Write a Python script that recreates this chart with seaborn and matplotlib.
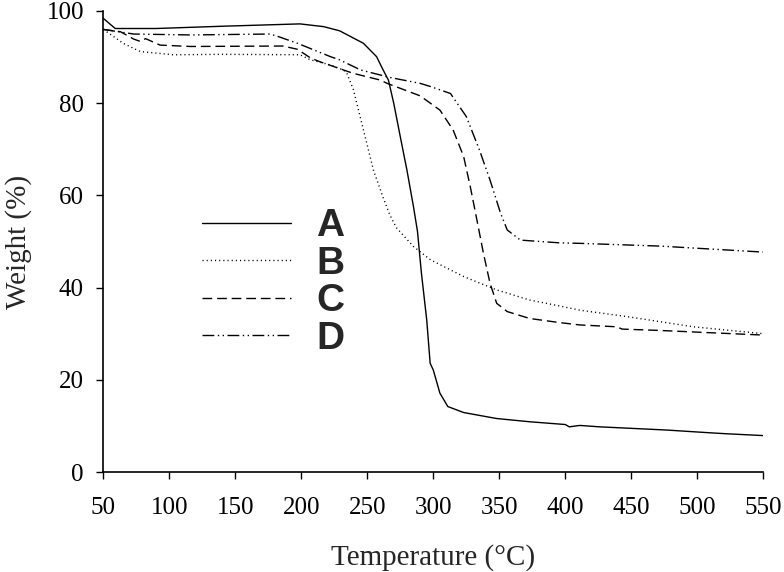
import matplotlib
matplotlib.use('Agg')
import matplotlib.pyplot as plt
import pandas as pd
import seaborn as sns

# TGA curves (temperature in °C, weight in %)
temp_a = [50, 59, 90, 141, 199, 217, 229, 247, 257, 262, 266, 270, 275, 280, 285, 288,
          291, 295, 297.6, 300, 305, 311, 323, 348, 373, 400, 403, 411, 426, 477, 510, 522, 550]
weight_a = [98.4, 96.2, 96.2, 96.7, 97.2, 96.6, 95.7, 93.0, 90.1, 87.2, 85.0, 80.0, 72.7, 65.5, 57.5, 52.2,
            43.1, 33.0, 23.6, 22.1, 17.1, 14.2, 12.9, 11.6, 10.9, 10.3, 9.8, 10.1, 9.8, 9.1, 8.5, 8.3, 7.9]

temp_b = [50, 65, 78, 103, 140, 199, 207, 222, 232, 234.5, 239.5, 244.5, 249.6, 254.6, 262, 267,
          272, 285, 298, 323, 348, 373, 396, 411, 447, 497, 550]
weight_b = [96.0, 93.0, 91.2, 90.5, 90.6, 90.5, 89.4, 88.3, 87.2, 86.5, 82.9, 77.1, 71.3, 65.5, 59.5, 55.8,
            53.0, 48.9, 46.0, 42.4, 39.5, 37.3, 36.0, 35.1, 33.7, 31.5, 30.0]

temp_c = [50, 63, 73, 78, 82, 93, 116, 186, 197, 207, 214, 239, 260, 265, 290, 305, 315, 323,
          328, 333, 338, 343, 348, 356, 373, 396, 411, 439, 443, 472, 550]
weight_c = [96.0, 95.5, 93.9, 93.4, 94.0, 92.6, 92.3, 92.4, 91.7, 89.8, 89.0, 86.5, 85.0, 84.3, 81.6, 78.5, 74.2, 68.4,
            61.9, 54.7, 47.4, 40.9, 36.6, 34.8, 33.3, 32.4, 31.9, 31.5, 31.0, 30.7, 29.7]

temp_d = [50, 73, 116, 176, 181, 197, 222, 229, 245, 260, 265, 290, 298, 313, 325, 335, 343,
          351, 356, 366, 396, 411, 472, 550]
weight_d = [96.0, 95.0, 94.8, 95.0, 94.6, 93.0, 90.1, 89.4, 87.2, 86.1, 85.7, 84.3, 83.6, 82.1, 77.1, 69.8, 63.3,
            56.1, 52.5, 50.3, 49.7, 49.6, 49.0, 47.7]

samples = ['A', 'B', 'C', 'D']
x_ticks = [50, 100, 150, 200, 250, 300, 350, 400, 450, 500, 550]
y_ticks = [0, 20, 40, 60, 80, 100]

frames = []
for name, t, w in zip(samples, [temp_a, temp_b, temp_c, temp_d], [weight_a, weight_b, weight_c, weight_d]):
    frames.append(pd.DataFrame({'temp': t, 'weight': w, 'sample': name}))
df = pd.concat(frames, ignore_index=True)

sns.set_style('ticks')
plt.rcParams['font.family'] = ['Liberation Serif', 'DejaVu Serif']

fig = plt.figure(figsize=(7.84, 5.72), dpi=100)
ax = fig.add_axes([0.1318, 0.1748, 0.8418, 0.806])

line_dashes = {'A': '', 'B': (0.8, 2.2), 'C': (7, 3.5), 'D': (8.5, 2.5, 1, 2.5, 1, 2.5)}
sns.lineplot(data=df, x='temp', y='weight', style='sample', style_order=samples,
             dashes=line_dashes, color='black', linewidth=1.0,
             estimator=None, sort=False, legend=False, ax=ax)

ax.set_xlim(50, 550)
ax.set_ylim(0, 100)
ax.set_xticks(x_ticks)
ax.set_yticks(y_ticks)
ax.tick_params(axis='both', direction='out', length=5, width=1, color='black',
               labelsize=18, labelcolor='black')
ax.tick_params(axis='x', pad=13)
ax.tick_params(axis='y', pad=9)
sns.despine(ax=ax)
for side in ['left', 'bottom']:
    ax.spines[side].set_linewidth(1.2)
    ax.spines[side].set_color('black')

ax.set_xlabel('Temperature (°C)', fontsize=21, labelpad=18)
ax.set_ylabel('Weight (%)', fontsize=21, labelpad=10)

leg = ax.legend(ax.get_lines(), samples, loc='upper left', bbox_to_anchor=(0.1495, 0.572),
                frameon=False, borderpad=0, handlelength=2.3, handletextpad=0.63,
                labelspacing=0.04, borderaxespad=0,
                prop={'family': 'Liberation Sans', 'weight': 'bold', 'size': 28})

fig.savefig('out.png', dpi=100)
